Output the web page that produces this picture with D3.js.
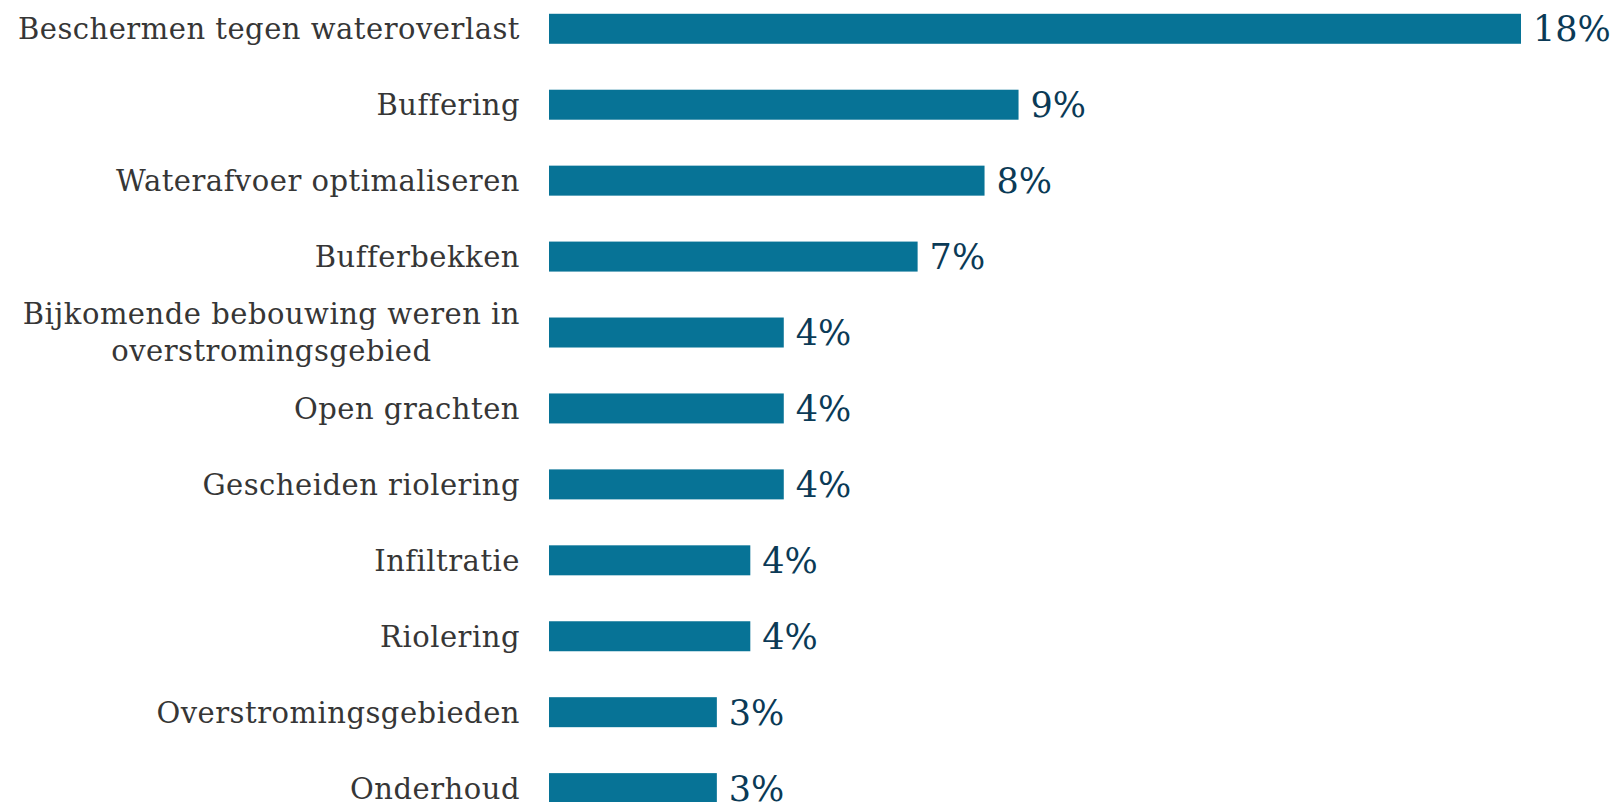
<!DOCTYPE html>
<html>
<head>
<meta charset="utf-8">
<script src="https://cdn.jsdelivr.net/npm/d3@7"></script>
<style>
  html, body { margin: 0; padding: 0; background: #ffffff; overflow: hidden; }
  svg { display: block; }
</style>
</head>
<body>
<svg id="chart" width="1614" height="802"></svg>
<script>
// Data
const categories = [
  "Beschermen tegen wateroverlast",
  "Buffering",
  "Waterafvoer optimaliseren",
  "Bufferbekken",
  "Bijkomende bebouwing weren in|overstromingsgebied",
  "Open grachten",
  "Gescheiden riolering",
  "Infiltratie",
  "Riolering",
  "Overstromingsgebieden",
  "Onderhoud"
];
const values = [18.01, 8.70, 8.07, 6.83, 4.35, 4.35, 4.35, 3.73, 3.73, 3.11, 3.11];
const valueLabels = ["18%", "9%", "8%", "7%", "4%", "4%", "4%", "4%", "4%", "3%", "3%"];

const svg = d3.select("#chart");
const x0 = 549, x1 = 1521;
const x = d3.scaleLinear().domain([0, 18.01]).range([x0, x1]);
const y = d3.scaleBand().domain(categories).range([-9, 825.9]).paddingInner(0.605).paddingOuter(0.3);

const barColor = "#077396";
const labelColor = "#363636";
const valueColor = "#0b3a56";
const labelFont = "DejaVu Serif";
const labelSize = 29;
const labelSpacing = "0.5px";

svg.selectAll("rect.bar").data(categories).join("rect")
  .attr("class", "bar")
  .attr("x", x(0))
  .attr("y", d => y(d))
  .attr("width", (d, i) => x(values[i]) - x(0))
  .attr("height", y.bandwidth())
  .attr("fill", barColor);

svg.selectAll("text.val").data(categories).join("text")
  .attr("class", "val")
  .attr("x", (d, i) => x(values[i]) + 12)
  .attr("y", d => y(d) + y.bandwidth() / 2)
  .attr("dy", "0.36em")
  .attr("font-family", "DejaVu Serif")
  .attr("font-size", 35)
  .attr("fill", valueColor)
  .text((d, i) => valueLabels[i]);

const labelRight = 520;
const lineGap = 37;
function addLabel(g, txt, xx, yy, anchor) {
  return g.append("text")
    .attr("x", xx).attr("y", yy).attr("dy", "0.36em")
    .attr("text-anchor", anchor)
    .attr("font-family", labelFont).attr("font-size", labelSize)
    .attr("letter-spacing", labelSpacing)
    .attr("fill", labelColor).text(txt);
}
categories.forEach(c => {
  const lines = c.split("|");
  const cy = y(c) + y.bandwidth() / 2;
  const g = svg.append("g");
  if (lines.length === 1) {
    addLabel(g, lines[0], labelRight, cy, "end");
  } else {
    const t1 = addLabel(g, lines[0], labelRight, cy - lineGap / 2, "end");
    const w = t1.node().getComputedTextLength();
    addLabel(g, lines[1], labelRight - w / 2, cy + lineGap / 2, "middle");
  }
});
</script>
</body>
</html>
